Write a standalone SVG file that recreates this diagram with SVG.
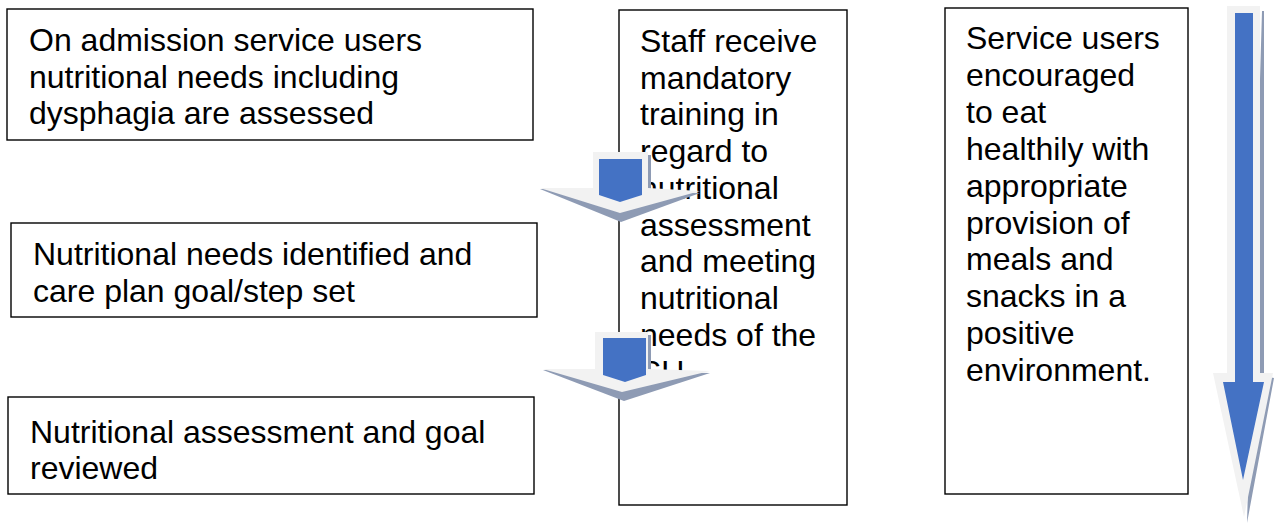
<svg xmlns="http://www.w3.org/2000/svg" width="1274" height="524" viewBox="0 0 1274 524">
  <style>
    .box { fill: #ffffff; stroke: #000000; stroke-width: 1.4; }
    .txt { font-family: "Liberation Sans", Arial, sans-serif; font-size: 32px; fill: #000000; }
    .halo { fill: #f2f2f2; }
    .shade { fill: #8e9bb4; }
    .blue { fill: #4472c4; }
  </style>

  <!-- process boxes -->
  <g id="node-admission">
    <rect class="box" x="7" y="9" width="526" height="131"/>
    <text class="txt" x="29" y="51">On admission service users</text>
    <text class="txt" x="29" y="88">nutritional needs including</text>
    <text class="txt" x="29" y="124">dysphagia are assessed</text>
  </g>

  <g id="node-identified">
    <rect class="box" x="11" y="223" width="526" height="94"/>
    <text class="txt" x="33" y="265">Nutritional needs identified and</text>
    <text class="txt" x="33" y="302">care plan goal/step set</text>
  </g>

  <g id="node-reviewed">
    <rect class="box" x="8" y="397" width="526" height="97"/>
    <text class="txt" x="30" y="443">Nutritional assessment and goal</text>
    <text class="txt" x="30" y="479">reviewed</text>
  </g>

  <g id="node-training">
    <rect class="box" x="619" y="10" width="228" height="495"/>
    <text class="txt" x="640" y="52">Staff receive</text>
    <text class="txt" x="640" y="89">mandatory</text>
    <text class="txt" x="640" y="125">training in</text>
    <text class="txt" x="640" y="162">regard to</text>
    <text class="txt" x="640" y="199">nutritional</text>
    <text class="txt" x="640" y="236">assessment</text>
    <text class="txt" x="640" y="272">and meeting</text>
    <text class="txt" x="640" y="309">nutritional</text>
    <text class="txt" x="640" y="346">needs of the</text>
    <text class="txt" x="640" y="383">SU</text>
  </g>

  <g id="node-healthy-eating">
    <rect class="box" x="945" y="8" width="243" height="486"/>
    <text class="txt" x="966" y="49">Service users</text>
    <text class="txt" x="966" y="86">encouraged</text>
    <text class="txt" x="966" y="123">to eat</text>
    <text class="txt" x="966" y="160">healthily with</text>
    <text class="txt" x="966" y="197">appropriate</text>
    <text class="txt" x="966" y="234">provision of</text>
    <text class="txt" x="966" y="270">meals and</text>
    <text class="txt" x="966" y="307">snacks in a</text>
    <text class="txt" x="966" y="344">positive</text>
    <text class="txt" x="966" y="381">environment.</text>
  </g>

  <!-- block arrows -->
  <g id="connectors">
    <!-- first step arrow -->
    <g id="arrow-1">
      <polygon class="shade" points="540,189 700,193 621,222"/>
      <rect class="shade" x="648" y="155" width="3" height="36"/>
      <polygon class="halo" points="540,188 593,188 593,152 648,152 648,188 700,191 620,213"/>
      <polygon class="blue" points="599,159 642,159 642,195 620,202 599,195"/>
    </g>
    <!-- second step arrow -->
    <g id="arrow-2">
      <polygon class="shade" points="543,370 710,373 624,401"/>
      <rect class="shade" x="648" y="335" width="3" height="37"/>
      <polygon class="halo" points="543,369 595,369 595,332 648,332 648,369 710,371 622,392"/>
      <polygon class="blue" points="603,338 646,338 646,375 625,382 603,375"/>
    </g>
    <!-- long arrow beside the right column -->
    <g id="arrow-3">
      <polygon class="shade" points="1262,11 1264,11 1264,376 1274,378 1247,523"/>
      <polygon class="halo" points="1227,6 1260,6 1260,373 1273,373 1244,517 1213,373 1227,373"/>
      <polygon class="blue" points="1235,13 1253,13 1253,382 1264,382 1243,480 1223,382 1235,382"/>
    </g>
  </g>
</svg>
